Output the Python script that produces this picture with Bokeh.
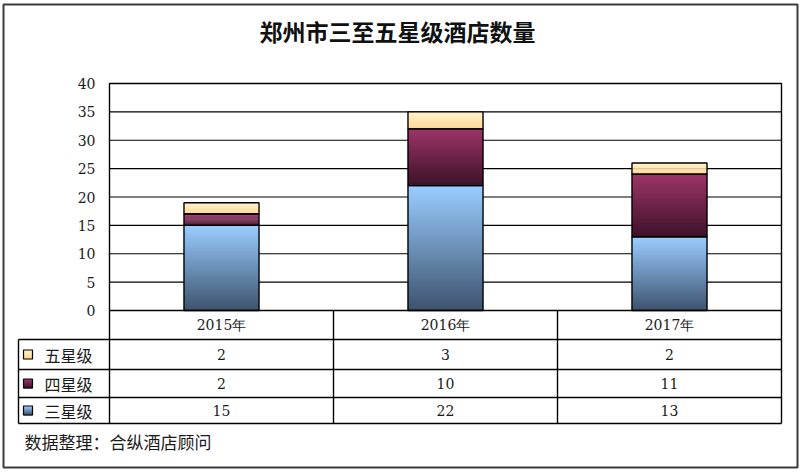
from bokeh.plotting import figure
from bokeh.models import Range1d, ColumnDataSource
from bokeh.core.properties import value
from bokeh.embed import file_html
from bokeh.resources import INLINE

# ---------------- data ----------------
title_text = "郑州市三至五星级酒店数量"
years = ["2015年", "2016年", "2017年"]
series_names = ["三星级", "四星级", "五星级"]          # bottom -> top in stack
three_star = [15, 22, 13]
four_star = [2, 10, 11]
five_star = [2, 3, 2]
y_ticks = [0, 5, 10, 15, 20, 25, 30, 35, 40]
source_note = "数据整理：合纵酒店顾问"

series_values = [three_star, four_star, five_star]
# gradient (top colour, bottom colour) per series
grad = {
    "三星级": ("#99ccff", "#3e546f"),
    "四星级": ("#9c3568", "#3e1229"),
    "五星级": ("#fff2c8", "#ffd38c"),
}

# ---------------- layout (canvas pixels, y downwards) ----------------
W, H = 799, 472
PL, PR, PT, PB = 109, 781, 83, 310
ROW_Y = [310, 339, 369, 397, 423]   # header top, header bottom, row bottoms
LEG_L = 18
YMAX = y_ticks[-1]
ncat = len(years)
cat_px = (PR - PL) / ncat
unit_px = (PB - PT) / YMAX
BAR_W = 0.335

p = figure(width=W, height=H,
           x_range=Range1d(-PL / cat_px, (W - PL) / cat_px),
           y_range=Range1d(-(H - PB) / unit_px, YMAX + PT / unit_px),
           output_backend="svg", toolbar_location=None,
           x_axis_type=None, y_axis_type=None, min_border=0)
p.title.visible = False
p.extra_x_ranges = {"px": Range1d(0, W)}
p.extra_y_ranges = {"px": Range1d(H, 0)}
p.grid.visible = False
p.outline_line_color = None
p.background_fill_color = "white"
p.border_fill_color = "white"


def hex2rgb(h):
    h = h.lstrip("#")
    return [int(h[i:i + 2], 16) for i in (0, 2, 4)]


def lerp(c1, c2, t):
    a, b = hex2rgb(c1), hex2rgb(c2)
    return "#%02x%02x%02x" % tuple(round(x + (y - x) * t) for x, y in zip(a, b))


# ---------------- grid lines ----------------
gy = y_ticks[1:-1]
p.segment(x0=[0] * len(gy), x1=[ncat] * len(gy), y0=gy, y1=gy,
          line_color="black", line_width=1.2)

# ---------------- stacked gradient bars ----------------
N = 60
sl = dict(left=[], right=[], bottom=[], top=[], color=[])
outl = dict(left=[], right=[], bottom=[], top=[])
base = [0] * ncat
for name, vals in zip(series_names, series_values):
    ctop, cbot = grad[name]
    for i, v in enumerate(vals):
        b0, b1 = base[i], base[i] + v
        l, r = i + 0.5 - BAR_W / 2, i + 0.5 + BAR_W / 2
        step = (b1 - b0) / N
        for k in range(N):
            t = k / (N - 1)
            st = b1 - step * k
            sb = max(b0, b1 - step * (k + 1) - step * 0.8)
            sl["left"].append(l); sl["right"].append(r)
            sl["bottom"].append(sb); sl["top"].append(st)
            sl["color"].append(lerp(ctop, cbot, t))
        outl["left"].append(l); outl["right"].append(r)
        outl["bottom"].append(b0); outl["top"].append(b1)
        base[i] = b1

p.quad(left="left", right="right", bottom="bottom", top="top",
       fill_color="color", line_color=None,
       source=ColumnDataSource(sl))
p.quad(left="left", right="right", bottom="bottom", top="top",
       fill_color=None, line_color="black", line_width=1.4,
       source=ColumnDataSource(outl))

# plot frame
p.quad(left=[0], right=[ncat], bottom=[0], top=[YMAX], fill_color=None,
       line_color="black", line_width=1.4)

# ---------------- y tick labels ----------------
p.text(x=[(95 - PL) / cat_px] * len(y_ticks), y=y_ticks,
       text=[str(t) for t in y_ticks], text_align="right", text_baseline="middle",
       text_font=value("DejaVu Serif"), text_font_size="14px", text_color="#1a1a1a")

# ---------------- data table ----------------
hy = ROW_Y[1:]
p.segment(x0=[LEG_L] * len(hy), x1=[PR] * len(hy), y0=hy, y1=hy,
          x_range_name="px", y_range_name="px", line_color="black", line_width=1.4)
vx = [PL + k * cat_px for k in range(ncat + 1)]
p.segment(x0=vx, x1=vx, y0=[ROW_Y[0]] * len(vx), y1=[ROW_Y[-1]] * len(vx),
          x_range_name="px", y_range_name="px", line_color="black", line_width=1.4)
p.segment(x0=[LEG_L], x1=[LEG_L], y0=[ROW_Y[1]], y1=[ROW_Y[-1]],
          x_range_name="px", y_range_name="px", line_color="black", line_width=1.4)

hdr_y = (ROW_Y[0] + ROW_Y[1]) / 2
p.text(x=[PL + (i + 0.5) * cat_px for i in range(ncat)], y=[hdr_y] * ncat, text=years,
       x_range_name="px", y_range_name="px",
       text_align="center", text_baseline="middle",
       text_font=value("DejaVu Serif"), text_font_size="14px", text_color="#1a1a1a")

rows = list(zip(series_names, series_values))[::-1]
for ri, (name, vals) in enumerate(rows):
    yc = (ROW_Y[ri + 1] + ROW_Y[ri + 2]) / 2
    p.text(x=[PL + (i + 0.5) * cat_px for i in range(ncat)], y=[yc] * ncat,
           text=[str(v) for v in vals], x_range_name="px", y_range_name="px",
           text_align="center", text_baseline="middle",
           text_font=value("DejaVu Serif"), text_font_size="14px", text_color="#1a1a1a")
    ctop, cbot = grad[name]
    ks = 9
    kx0 = LEG_L + 5
    for k in range(ks):
        p.quad(left=[kx0], right=[kx0 + ks], top=[yc - ks / 2 + k], bottom=[yc - ks / 2 + k + 1.5],
               x_range_name="px", y_range_name="px",
               fill_color=lerp(ctop, cbot, k / (ks - 1)), line_color=None)
    p.quad(left=[kx0], right=[kx0 + ks], top=[yc - ks / 2], bottom=[yc + ks / 2],
           x_range_name="px", y_range_name="px", fill_color=None,
           line_color="black", line_width=1.2)
    p.text(x=[LEG_L + 26], y=[yc], text=[name], x_range_name="px", y_range_name="px",
           text_align="left", text_baseline="middle",
           text_font=value("Noto Sans CJK SC"), text_font_size="16px", text_color="#1a1a1a")

# ---------------- title & source ----------------
p.text(x=[397], y=[30], text=[title_text], x_range_name="px", y_range_name="px",
       text_align="center", text_baseline="middle", text_font_style="bold",
       text_font=value("Noto Sans CJK SC"), text_font_size="23px", text_color="#111111")
p.text(x=[24], y=[441], text=[source_note], x_range_name="px", y_range_name="px",
       text_align="left", text_baseline="middle",
       text_font=value("Noto Sans CJK SC"), text_font_size="17px", text_color="#1a1a1a")

# outer border
p.quad(left=[3], right=[797], top=[4], bottom=[467], x_range_name="px", y_range_name="px",
       fill_color=None, line_color="#3a3a3a", line_width=2)

open("out.html", "w").write(file_html(p, INLINE))
